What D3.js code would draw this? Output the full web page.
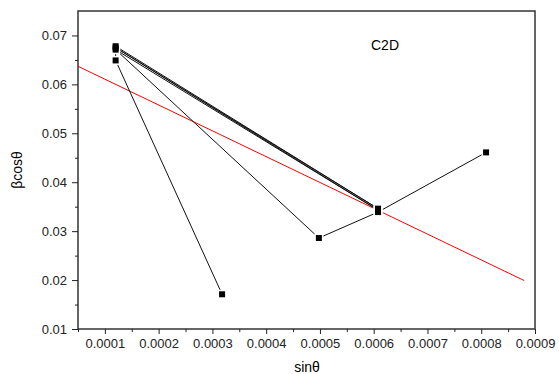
<!DOCTYPE html>
<html>
<head>
<meta charset="utf-8">
<script src="https://cdn.jsdelivr.net/npm/d3@7"></script>
<style>
  body { margin: 0; background: #fff; }
  text { font-family: "Liberation Sans", Arial, sans-serif; }
</style>
</head>
<body>
<svg width="559" height="374"></svg>
<script>
// measured points, in the order the line was drawn
var sinTheta = [0.000318, 0.00012, 0.00012, 0.000608, 0.00012, 0.000608, 0.00012, 0.000498, 0.000608, 0.000809];
var betaCos  = [0.0171, 0.0649, 0.0678, 0.0346, 0.0675, 0.0343, 0.0671, 0.0286, 0.0339, 0.0461];
// linear fit (red)
var fitX = [0.00005, 0.00088];
var fitY = [0.0637, 0.0199];
var xTicks = [0.0001, 0.0002, 0.0003, 0.0004, 0.0005, 0.0006, 0.0007, 0.0008, 0.0009];
var yTicks = [0.01, 0.02, 0.03, 0.04, 0.05, 0.06, 0.07];

var svg = d3.select("svg"),
    mLeft = 78, mRight = 535, mTop = 11, mBottom = 329;

var x = d3.scaleLinear().domain([0.00005, 0.0009]).range([mLeft, mRight]);
var y = d3.scaleLinear().domain([0.01, 0.075]).range([mBottom, mTop]);

var pts = sinTheta.map(function(d, i){ return [d, betaCos[i]]; });

// frame
svg.append("rect")
    .attr("x", mLeft).attr("y", mTop)
    .attr("width", mRight - mLeft).attr("height", mBottom - mTop)
    .attr("fill", "none")
    .attr("stroke", "#333")
    .attr("stroke-width", 1.5);

// x axis
var xMinor = d3.range(0.00005, 0.00091, 0.0001);
svg.append("g")
    .attr("transform", "translate(0," + mBottom + ")")
    .call(d3.axisBottom(x).tickValues(xMinor).tickSize(3).tickFormat(""))
    .call(g => g.select(".domain").remove());
svg.append("g")
    .attr("transform", "translate(0," + mBottom + ")")
    .call(d3.axisBottom(x).tickValues(xTicks).tickSize(5).tickPadding(5)
        .tickFormat(d3.format(".4f")))
    .call(g => g.select(".domain").remove())
    .call(g => g.selectAll("text").attr("font-size", 13).attr("fill", "#222"));

// y axis
var yMinor = d3.range(0.015, 0.075, 0.01);
svg.append("g")
    .attr("transform", "translate(" + mLeft + ",0)")
    .call(d3.axisLeft(y).tickValues(yMinor).tickSize(3).tickFormat(""))
    .call(g => g.select(".domain").remove());
svg.append("g")
    .attr("transform", "translate(" + mLeft + ",0)")
    .call(d3.axisLeft(y).tickValues(yTicks).tickSize(6).tickPadding(5)
        .tickFormat(d3.format(".2f")))
    .call(g => g.select(".domain").remove())
    .call(g => g.selectAll("text").attr("font-size", 13).attr("fill", "#222"));

svg.selectAll(".tick line").attr("stroke", "#222");

// fit line
svg.append("line")
    .attr("x1", x(fitX[0])).attr("y1", y(fitY[0]))
    .attr("x2", x(fitX[1])).attr("y2", y(fitY[1]))
    .attr("stroke", "red")
    .attr("stroke-width", 1);

// data line
svg.append("path")
    .datum(pts)
    .attr("fill", "none")
    .attr("stroke", "#111")
    .attr("stroke-width", 1)
    .attr("d", d3.line().x(d => x(d[0])).y(d => y(d[1])));

// white halo under markers gives the gap where lines meet symbols
svg.append("g")
    .selectAll("rect")
    .data(pts)
    .enter()
    .append("rect")
    .attr("x", d => x(d[0]) - 4.5)
    .attr("y", d => y(d[1]) - 4.5)
    .attr("width", 9)
    .attr("height", 9)
    .attr("fill", "#fff");

svg.append("g")
    .selectAll("rect")
    .data(pts)
    .enter()
    .append("rect")
    .attr("x", d => x(d[0]) - 3)
    .attr("y", d => y(d[1]) - 3)
    .attr("width", 6)
    .attr("height", 6)
    .attr("fill", "#000");

svg.append("text")
    .attr("x", 385).attr("y", 50)
    .attr("text-anchor", "middle")
    .attr("font-size", 14)
    .text("C2D");

svg.append("text")
    .attr("x", 307).attr("y", 372)
    .attr("text-anchor", "middle")
    .attr("font-size", 14)
    .text("sinθ");

svg.append("text")
    .attr("transform", "translate(22," + ((mTop + mBottom) / 2) + ") rotate(-90)")
    .attr("text-anchor", "middle")
    .attr("font-size", 14)
    .text("βcosθ");
</script>
</body>
</html>
